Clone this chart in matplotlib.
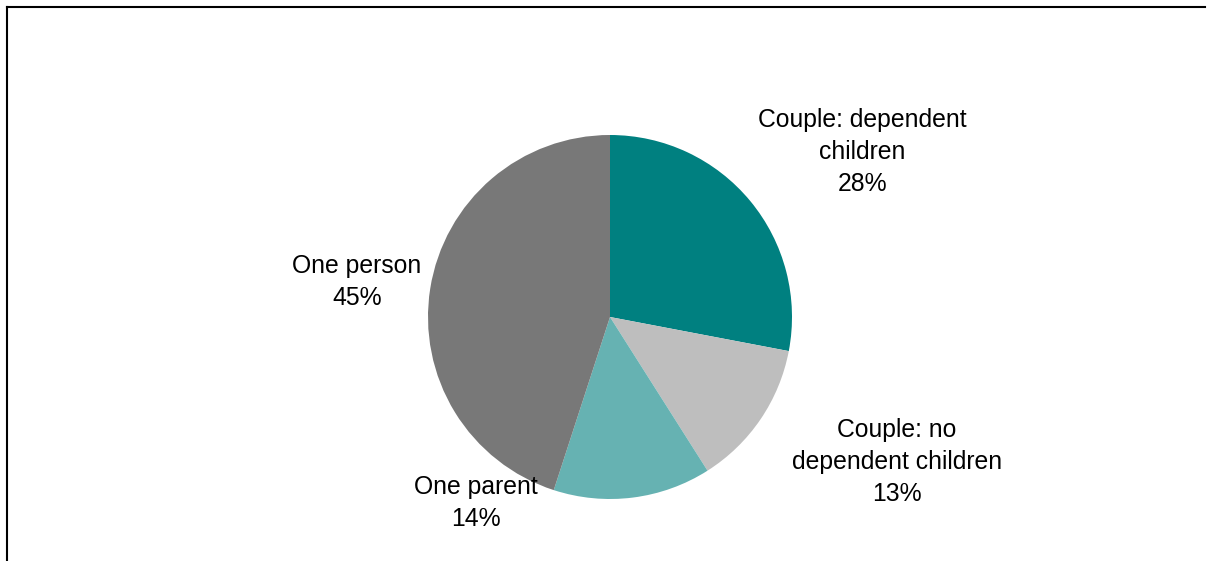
import matplotlib
matplotlib.use("Agg")
import matplotlib.pyplot as plt
from matplotlib.lines import Line2D

# Household composition shares
categories = [
    "Couple: dependent\nchildren",
    "Couple: no\ndependent children",
    "One parent",
    "One person",
]
shares = [28, 13, 14, 45]
colors = ["#008080", "#BEBEBE", "#66B2B2", "#787878"]

# Label anchor points, in units of the pie radius
label_xy = [(1.385, 0.907), (1.577, -0.797), (-0.736, -1.022), (-1.39, 0.192)]

plt.rcParams["font.family"] = ["Liberation Sans", "DejaVu Sans"]

W, H = 1210, 561
fig = plt.figure(figsize=(W / 100, H / 100), dpi=100)

# Pie centre at (610, 317) px, radius 182 px
cx, cy, r = 610, 317, 182
ax = fig.add_axes([(cx - r) / W, (H - cy - r) / H, 2 * r / W, 2 * r / H])
ax.pie(
    shares,
    colors=colors,
    startangle=90,
    counterclock=False,
    radius=1,
    wedgeprops={"linewidth": 0},
)
ax.set_xlim(-1, 1)
ax.set_ylim(-1, 1)
ax.set_aspect("equal")
ax.axis("off")

for name, val, (x, y) in zip(categories, shares, label_xy):
    ax.text(
        x, y, f"{name}\n{val}%",
        ha="center", va="center", fontsize=17.8, linespacing=1.4,
        color="black", clip_on=False,
    )

# Frame lines along the top and left edges
fig.add_artist(Line2D([6.5 / W, 6.5 / W], [0, 1 - 6.5 / H],
                      transform=fig.transFigure, color="black", lw=1.5))
fig.add_artist(Line2D([6.5 / W, 1205 / W], [1 - 6.5 / H, 1 - 6.5 / H],
                      transform=fig.transFigure, color="black", lw=1.5))

fig.savefig("out.png", dpi=100)
